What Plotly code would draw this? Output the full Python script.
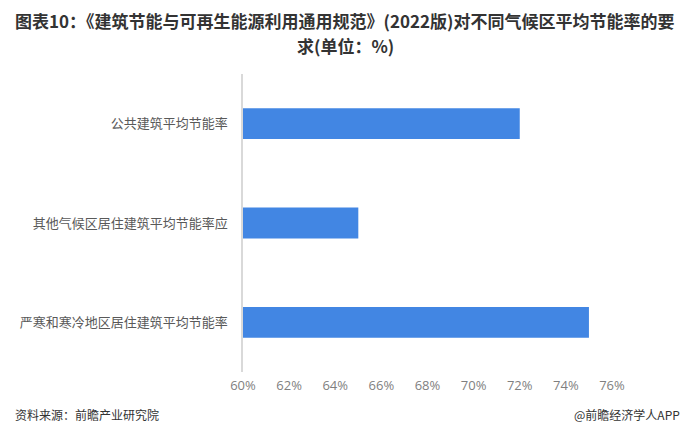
import plotly.graph_objects as go

categories = ["公共建筑平均节能率", "其他气候区居住建筑平均节能率应", "严寒和寒冷地区居住建筑平均节能率"]
values = [72, 65, 75]
tick_vals = [60, 62, 64, 66, 68, 70, 72, 74, 76]
tick_text = [f"{v}%" for v in tick_vals]

title_line1 = "图表10：《建筑节能与可再生能源利用通用规范》(2022版)对不同气候区平均节能率的要"
title_line2 = "求(单位：%)"
source_text = "资料来源：前瞻产业研究院"
brand_text = "@前瞻经济学人APP"

# The page body has an 8px margin, so the figure is sized to fit inside it.
W, H = 680, 429
L, R, T, B = 232, 76, 66, 65
PW, PH = W - L - R, H - T - B

def px_x(x):
    return (x - 8 - L) / PW

def px_y(y):
    return 1 + (T - (y - 8)) / PH

fig = go.Figure(go.Bar(
    y=categories, x=[v - 60 for v in values], base=60, orientation="h",
    marker=dict(color="#4286E3", line=dict(width=0)),
))

fig.update_layout(
    width=W, height=H,
    margin=dict(l=L, r=R, t=T, b=B),
    paper_bgcolor="white", plot_bgcolor="white",
    bargap=0.69,
    showlegend=False,
    font=dict(family="Noto Sans CJK SC", color="#595959"),
)
fig.update_xaxes(range=[60, 76], tickvals=tick_vals, ticktext=tick_text,
                 showgrid=False, zeroline=False, showline=False,
                 tickfont=dict(family="Open Sans", size=13, color="#7f7f7f"),
                 ticklabelstandoff=4)
fig.update_yaxes(autorange="reversed", showgrid=False, zeroline=False,
                 showline=True, linecolor="#d9d9d9", linewidth=1.5,
                 tickfont=dict(family="Noto Sans CJK SC", size=13, color="#595959"),
                 ticklabelstandoff=11)

title_font = dict(family="Noto Sans CJK SC", size=17, color="#333333", weight="bold")
fig.add_annotation(text=title_line1, xref="paper", yref="paper", x=px_x(343), y=px_y(20.8),
                   xanchor="center", yanchor="middle", showarrow=False, font=title_font)
fig.add_annotation(text=title_line2, xref="paper", yref="paper", x=px_x(343), y=px_y(45.5),
                   xanchor="center", yanchor="middle", showarrow=False, font=title_font)

fig.add_annotation(text=source_text, xref="paper", yref="paper", x=px_x(8), y=px_y(414),
                   xanchor="left", yanchor="middle", showarrow=False,
                   font=dict(family="Noto Sans CJK SC", size=12, color="#333333"))
fig.add_annotation(text=brand_text, xref="paper", yref="paper", x=px_x(683), y=px_y(414),
                   xanchor="right", yanchor="middle", showarrow=False,
                   font=dict(family="Noto Sans CJK SC", size=12, color="#333333"))

fig.write_html("out.html")
